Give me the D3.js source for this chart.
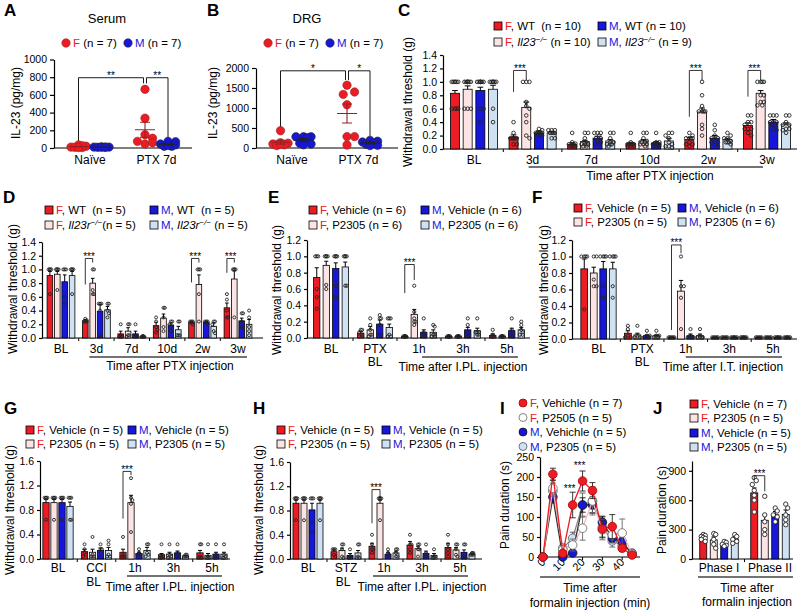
<!DOCTYPE html>
<html lang="en">
<head>
<meta charset="UTF-8">
<title>IL-23 sex dimorphism figure</title>
<style>
  body { margin: 0; background: #fff; }
  text { white-space: pre; }
</style>
<script src="https://d3js.org/d3.v7.min.js"></script>
</head>
<body>
<script>
// ---------------- data ----------------
// A / B : IL-23 levels (pg/mg), one value per animal
const abGroups = ["Naïve", "PTX 7d"];
const aTicks = [0, 200, 400, 600, 800, 1000];
const aFemale = [[35, 20, 10, 5, 8, 25, 5], [663, 337, 150, 110, 75, 45, 60]];
const aMale = [[12, 10, 10, 8, 8, 10, 10], [75, 70, 45, 20, 20, 30, 35]];
const aSig = [[0, 2, 794, 70, 730, "**"], [2, 3, 794, 730, 90, "**"]];
const bTicks = [0, 500, 1000, 1500, 2000];
const bFemale = [[433, 130, 120, 100, 80, 60, 90], [1570, 1400, 1340, 1080, 285, 285, 75]];
const bMale = [[280, 280, 280, 260, 120, 100, 80], [190, 170, 150, 120, 90, 70, 60]];
const bSig = [[0, 2, 1930, 520, 1700, "*"], [2, 3, 1930, 1700, 300, "*"]];

// C : Il23 KO, PTX  (series: F WT, F KO, M WT, M KO)
const ptxGroups = ["BL", "3d", "7d", "10d", "2w", "3w"];
const tick14 = [0, 0.2, 0.4, 0.6, 0.8, 1.0, 1.2, 1.4];
const cLegend = [["F", ", WT  (n = 10)"], ["F", ", ", "_Il23", "^−/−", " (n = 10)"],
                 ["M", ", WT (n = 10)"], ["M", ", ", "_Il23", "^−/−", " (n = 9)"]];
const cMeans = [[0.83, 0.17, 0.07, 0.08, 0.14, 0.35], [0.89, 0.62, 0.11, 0.12, 0.55, 0.83],
                [0.87, 0.24, 0.16, 0.09, 0.16, 0.40], [0.89, 0.24, 0.12, 0.12, 0.14, 0.36]];
const cSems = [[0.04, 0.04, 0.02, 0.02, 0.03, 0.04], [0.05, 0.08, 0.02, 0.02, 0.06, 0.04],
               [0.05, 0.03, 0.03, 0.02, 0.04, 0.04], [0.06, 0.02, 0.02, 0.04, 0.02, 0.03]];
const cDots = [
  [[1, 1, 1, 1, 1, 1, 0.6, 0.6, 0.6, 0.6], [0.4, 0.24, 0.16, 0.16, 0.16, 0.16, 0.16, 0.16, 0.07, 0.07],
   [0.24, 0.1, 0.08, 0.07, 0.07, 0.07, 0.04, 0.04, 0.04, 0.04], [0.24, 0.1, 0.07, 0.07, 0.07, 0.07, 0.07, 0.04, 0.04, 0.04],
   [0.24, 0.2, 0.16, 0.16, 0.16, 0.16, 0.1, 0.07, 0.07, 0.04], [0.5, 0.5, 0.4, 0.4, 0.36, 0.3, 0.3, 0.3, 0.24, 0.2]],
  [[1, 1, 1, 1, 1, 1, 1, 0.6, 0.6, 0.6], [1, 1, 1, 0.7, 0.64, 0.6, 0.5, 0.4, 0.2, 0.16],
   [0.24, 0.24, 0.16, 0.1, 0.07, 0.07, 0.07, 0.07, 0.04, 0.04], [0.24, 0.24, 0.16, 0.12, 0.1, 0.1, 0.07, 0.07, 0.07, 0.04],
   [1, 0.8, 0.64, 0.56, 0.56, 0.56, 0.56, 0.36, 0.3, 0.2], [1, 1, 1, 1, 0.8, 0.8, 0.7, 0.7, 0.65, 0.65]],
  [[1, 1, 1, 1, 1, 1, 1, 0.6, 0.6, 0.4], [0.3, 0.28, 0.24, 0.24, 0.24, 0.24, 0.24, 0.24, 0.2, 0.2],
   [0.24, 0.24, 0.24, 0.2, 0.16, 0.16, 0.12, 0.1, 0.07, 0.07], [0.24, 0.1, 0.1, 0.07, 0.07, 0.07, 0.07, 0.07, 0.04, 0.04],
   [0.36, 0.28, 0.2, 0.16, 0.16, 0.12, 0.1, 0.1, 0.07, 0.04], [0.5, 0.5, 0.5, 0.4, 0.4, 0.4, 0.36, 0.36, 0.3, 0.28]],
  [[1, 1, 1, 1, 1, 1, 1, 0.6, 0.4], [0.28, 0.28, 0.28, 0.24, 0.24, 0.24, 0.24, 0.16, 0.16],
   [0.24, 0.24, 0.16, 0.1, 0.1, 0.07, 0.07, 0.07, 0.04], [0.24, 0.24, 0.2, 0.16, 0.1, 0.07, 0.04, 0.04, 0.02],
   [0.24, 0.2, 0.16, 0.16, 0.12, 0.1, 0.1, 0.1, 0.07], [0.5, 0.5, 0.4, 0.36, 0.36, 0.3, 0.3, 0.28, 0.24]]];
const cSig = [[1, 1.17, 0.85, 1.02], [4, 1.17, 0.48, 1.02], [5, 1.17, 0.78, 1.02]];

// D : Il23r KO, PTX
const dLegend = [["F", ", WT  (n = 5)"], ["F", ", ", "_Il23r", "^−/−", "(n = 5)"],
                 ["M", ", WT  (n = 5)"], ["M", ", ", "_Il23r", "^−/−", " (n = 5)"]];
const dMeans = [[0.91, 0.25, 0.06, 0.18, 0.23, 0.44], [0.93, 0.80, 0.10, 0.29, 0.78, 0.86],
                [0.82, 0.39, 0.06, 0.19, 0.23, 0.25], [0.91, 0.41, 0.02, 0.12, 0.17, 0.20]];
const dSems = [[0.06, 0.02, 0.04, 0.05, 0.01, 0.07], [0.04, 0.07, 0.05, 0.06, 0.14, 0.12],
               [0.10, 0.10, 0.04, 0.03, 0.01, 0.04], [0.06, 0.05, 0.01, 0.05, 0.05, 0.07]];
const dDots = [
  [[1, 1, 1, 1, 0.64], [0.28, 0.26, 0.24, 0.24, 0.24], [0.2, 0.04, 0.02, 0.02, 0.02], [0.3, 0.24, 0.16, 0.12, 0.08], [0.24, 0.24, 0.24, 0.22, 0.2], [0.64, 0.56, 0.4, 0.3, 0.3]],
  [[1, 1, 1, 1, 0.7], [1, 1, 0.7, 0.64, 0.64], [0.2, 0.2, 0.04, 0.04, 0.02], [0.44, 0.44, 0.3, 0.16, 0.1], [1, 1, 1, 0.64, 0.24], [1, 1, 1, 1, 0.3]],
  [[1, 1, 1, 0.6, 0.5], [0.5, 0.5, 0.5, 0.4, 0.04], [0.2, 0.04, 0.02, 0.02, 0.02], [0.24, 0.24, 0.2, 0.16, 0.1], [0.24, 0.24, 0.24, 0.22, 0.2], [0.36, 0.36, 0.24, 0.16, 0.14]],
  [[1, 1, 1, 1, 0.64], [0.5, 0.5, 0.4, 0.36, 0.3], [0.03, 0.02, 0.02, 0.02, 0.02], [0.24, 0.24, 0.04, 0.04, 0.04], [0.24, 0.24, 0.2, 0.1, 0.07], [0.4, 0.3, 0.16, 0.1, 0.04]]];
const dSig = [[1, 1.16, 0.78, 1.1], [4, 1.16, 0.81, 1.1], [5, 1.16, 0.95, 1.1]];

// E : P2305 i.pl. after PTX
const injGroups = ["BL", "PTX", "1h", "3h", "5h"];
const injSub = ["", "BL", "", "", ""];
const tick12 = [0, 0.2, 0.4, 0.6, 0.8, 1.0, 1.2];
const eLegend = [["F", ", Vehicle (n = 6)"], ["F", ", P2305 (n = 6)"], ["M", ", Vehicle (n = 6)"], ["M", ", P2305 (n = 6)"]];
const eMeans = [[0.74, 0.06, 0.02, 0.02, 0.03], [0.89, 0.10, 0.29, 0.02, 0.02],
                [0.85, 0.17, 0.07, 0.10, 0.09], [0.87, 0.13, 0.07, 0.09, 0.10]];
const eSems = [[0.12, 0.02, 0.005, 0.005, 0.02], [0.05, 0.04, 0.06, 0.005, 0.005],
               [0.07, 0.05, 0.03, 0.03, 0.03], [0.06, 0.04, 0.03, 0.03, 0.03]];
const eDots = [
  [[1, 1, 1, 0.6, 0.5, 0.36], [0.1, 0.1, 0.07, 0.04, 0.02, 0.02], [0.02, 0.02, 0.02, 0.02, 0.02, 0.02], [0.02, 0.02, 0.02, 0.02, 0.02, 0.02], [0.1, 0.04, 0.02, 0.02, 0.02, 0.02]],
  [[1, 1, 1, 1, 0.65, 0.6], [0.24, 0.16, 0.1, 0.04, 0.04, 0.02], [0.64, 0.32, 0.24, 0.2, 0.2, 0.16], [0.02, 0.02, 0.02, 0.02, 0.02, 0.02], [0.02, 0.02, 0.02, 0.02, 0.02, 0.02]],
  [[1, 1, 1, 1, 0.64, 0.5], [0.28, 0.24, 0.24, 0.16, 0.04, 0.04], [0.24, 0.07, 0.04, 0.04, 0.02, 0.02], [0.24, 0.16, 0.07, 0.04, 0.04, 0.02], [0.24, 0.1, 0.07, 0.04, 0.04, 0.02]],
  [[1, 1, 1, 1, 0.64, 0.64], [0.24, 0.24, 0.24, 0.04, 0.02, 0.02], [0.16, 0.14, 0.04, 0.04, 0.02, 0.02], [0.24, 0.07, 0.07, 0.07, 0.04, 0.04], [0.2, 0.16, 0.1, 0.07, 0.04, 0.04]]];
const eSig = [[2, 0.9, 0.55, 0.71]];

// F : P2305 i.t. after PTX
const fLegend = [["F", ", Vehicle (n = 5)"], ["F", ", P2305 (n = 5)"], ["M", ", Vehicle (n = 6)"], ["M", ", P2305 (n = 6)"]];
const fMeans = [[0.85, 0.07, 0.02, 0.02, 0.02], [0.80, 0.05, 0.58, 0.02, 0.02],
                [0.85, 0.04, 0.04, 0.02, 0.02], [0.85, 0.04, 0.04, 0.02, 0.02]];
const fSems = [[0.12, 0.03, 0.003, 0.003, 0.003], [0.07, 0.02, 0.13, 0.003, 0.003],
               [0.09, 0.01, 0.02, 0.003, 0.003], [0.08, 0.01, 0.02, 0.003, 0.003]];
const fDots = [
  [[1, 1, 1, 1, 0.36], [0.16, 0.12, 0.04, 0.02, 0.02], [0.02, 0.02, 0.02, 0.02, 0.02], [0.02, 0.02, 0.02, 0.02, 0.02], [0.02, 0.02, 0.02, 0.02, 0.02]],
  [[1, 1, 0.72, 0.64, 0.64], [0.16, 0.04, 0.02, 0.02, 0.02], [1, 0.64, 0.64, 0.5, 0.12], [0.02, 0.02, 0.02, 0.02, 0.02], [0.02, 0.02, 0.02, 0.02, 0.02]],
  [[1, 1, 1, 1, 0.64, 0.5], [0.1, 0.04, 0.04, 0.02, 0.02, 0.02], [0.12, 0.04, 0.02, 0.02, 0.02, 0.02], [0.02, 0.02, 0.02, 0.02, 0.02, 0.02], [0.02, 0.02, 0.02, 0.02, 0.02, 0.02]],
  [[1, 1, 1, 1, 0.64, 0.5], [0.1, 0.04, 0.04, 0.02, 0.02, 0.02], [0.12, 0.04, 0.02, 0.02, 0.02, 0.02], [0.02, 0.02, 0.02, 0.02, 0.02, 0.02], [0.02, 0.02, 0.02, 0.02, 0.02, 0.02]]];
const fSig = [[2, 1.14, 0.11, 1.04]];

// G : CCI model, H : STZ model
const tick16 = [0, 0.4, 0.8, 1.2, 1.6];
const ghLegend = [["F", ", Vehicle (n = 5)"], ["F", ", P2305 (n = 5)"], ["M", ", Vehicle (n = 5)"], ["M", ", P2305 (n = 5)"]];
const gGroups = ["BL", "CCI", "1h", "3h", "5h"];
const gMeans = [[0.92, 0.12, 0.11, 0.07, 0.10], [0.92, 0.11, 0.92, 0.08, 0.06],
                [0.92, 0.14, 0.09, 0.10, 0.08], [0.86, 0.14, 0.14, 0.05, 0.08]];
const gSems = [[0.05, 0.04, 0.05, 0.02, 0.04], [0.05, 0.05, 0.12, 0.03, 0.03],
               [0.05, 0.04, 0.02, 0.03, 0.03], [0.07, 0.05, 0.05, 0.01, 0.03]];
const gDots = [
  [[1, 1, 1, 1, 0.64], [0.24, 0.16, 0.1, 0.07, 0.04], [0.36, 0.07, 0.04, 0.04, 0.04], [0.24, 0.04, 0.04, 0.02, 0.02], [0.24, 0.24, 0.04, 0.02, 0.02]],
  [[1, 1, 1, 1, 0.64], [0.36, 0.07, 0.04, 0.04, 0.04], [1.32, 1, 0.96, 0.9, 0.44], [0.24, 0.07, 0.04, 0.02, 0.02], [0.24, 0.04, 0.02, 0.02, 0.02]],
  [[1, 1, 1, 1, 0.64], [0.24, 0.16, 0.16, 0.1, 0.04], [0.16, 0.1, 0.07, 0.07, 0.07], [0.24, 0.1, 0.07, 0.04, 0.04], [0.24, 0.07, 0.04, 0.02, 0.02]],
  [[1, 1, 1, 0.64, 0.64], [0.3, 0.24, 0.07, 0.04, 0.04], [0.24, 0.24, 0.1, 0.07, 0.04], [0.07, 0.07, 0.04, 0.04, 0.04], [0.24, 0.07, 0.04, 0.02, 0.02]]];
const gSig = [[2, 1.43, 0.66, 1.37]];
const hGroups = ["BL", "STZ", "1h", "3h", "5h"];
const hMeans = [[0.92, 0.12, 0.21, 0.23, 0.19], [0.92, 0.14, 0.92, 0.17, 0.15],
                [0.81, 0.06, 0.08, 0.09, 0.11], [0.92, 0.10, 0.10, 0.06, 0.08]];
const hSems = [[0.05, 0.03, 0.05, 0.06, 0.07], [0.05, 0.04, 0.05, 0.04, 0.04],
               [0.11, 0.03, 0.03, 0.04, 0.04], [0.05, 0.04, 0.03, 0.03, 0.02]];
const hDots = [
  [[1, 1, 1, 1, 0.64], [0.16, 0.16, 0.16, 0.07, 0.04], [0.4, 0.24, 0.16, 0.16, 0.1], [0.4, 0.24, 0.24, 0.16, 0.1], [0.4, 0.24, 0.16, 0.1, 0.04]],
  [[1, 1, 1, 1, 0.64], [0.24, 0.24, 0.16, 0.04, 0.02], [1, 1, 1, 1, 0.64], [0.24, 0.24, 0.16, 0.16, 0.04], [0.24, 0.24, 0.16, 0.07, 0.04]],
  [[1, 1, 1, 0.6, 0.44], [0.16, 0.04, 0.04, 0.02, 0.02], [0.16, 0.1, 0.07, 0.04, 0.04], [0.24, 0.1, 0.04, 0.04, 0.04], [0.24, 0.24, 0.04, 0.02, 0.02]],
  [[1, 1, 1, 1, 0.64], [0.24, 0.24, 0.04, 0.02, 0.02], [0.16, 0.16, 0.1, 0.04, 0.04], [0.16, 0.04, 0.04, 0.02, 0.02], [0.1, 0.1, 0.07, 0.07, 0.07]]];
const hSig = [[2, 1.145, 0.59, 1.0]];

// I : formalin time course (s per 5 min bin)
const iTime = [0, 5, 10, 15, 20, 25, 30, 35, 40, 45];
const iTicks = [0, 10, 20, 30, 40];
const iYTicks = [0, 50, 100, 150, 200, 250];
const iLegend = [["F", ", Vehichle (n = 7)"], ["F", ", P2505 (n = 5)"], ["M", ", Vehichle (n = 5)"], ["M", ", P2305 (n = 5)"]];
const iFVeh = [0, 207, 9, 130, 190, 166, 70, 76, 22, 5];
const iFVehSem = [0, 15, 6, 32, 25, 20, 22, 30, 8, 4];
const iFP = [0, 172, 18, 30, 72, 140, 68, 55, 60, 8];
const iFPSem = [0, 20, 10, 15, 30, 35, 25, 20, 35, 6];
const iMVeh = [0, 150, 0, 10, 130, 130, 87, 47, 38, 8];
const iMVehSem = [0, 15, 3, 5, 18, 20, 15, 10, 10, 4];
const iMP = [0, 165, 22, 47, 130, 140, 75, 40, 30, 10];
const iMPSem = [0, 20, 10, 15, 30, 30, 25, 15, 10, 5];
const iSig = [[15, 168], [20, 225]];

// J : formalin phases
const jGroups = ["Phase I", "Phase II"];
const jTicks = [0, 300, 600, 900];
const jLegend = [["F", ", Vehicle (n = 7)"], ["F", ", P2305 (n = 5)"], ["M", ", Vehicle (n = 5)"], ["M", ", P2305 (n = 5)"]];
const jMeans = [[225, 675], [195, 395], [155, 450], [205, 455]];
const jSems = [[20, 50], [30, 60], [15, 35], [25, 45]];
const jDots = [[[250, 240, 230, 220, 210, 200, 180], [830, 800, 760, 700, 650, 600, 480]],
               [[260, 250, 200, 150, 110], [640, 450, 380, 300, 250]],
               [[180, 170, 150, 140, 130], [520, 490, 450, 430, 380]],
               [[250, 230, 200, 180, 160], [560, 520, 450, 400, 350]]];
const jSig = [[1, 850, 810, 690]];

// ---------------- drawing ----------------
const RED = "#ec1c24", PINK = "#fde4e4", BLUE = "#1717dc", LBLUE = "#cfe2f3";
const FILLS = [RED, PINK, BLUE, LBLUE];
const SEX = [RED, RED, BLUE, BLUE];

const svg = d3.select("body").append("svg")
    .attr("width", 800).attr("height", 611)
    .attr("font-family", "'Liberation Sans', Arial, sans-serif");

function styleAxis(g) {
  g.attr("font-family", null).attr("font-size", 10.5);
  g.selectAll(".domain, .tick line").attr("stroke", "#000").attr("stroke-width", 1.2);
  g.selectAll(".tick text").attr("fill", "#000");
}

function hline(g, x1, x2, y, w, col) {
  g.append("line").attr("x1", x1).attr("x2", x2).attr("y1", y).attr("y2", y)
    .attr("stroke", col || "#000").attr("stroke-width", w);
}

function txt(g, x, y, s, size, anchor) {
  return g.append("text").attr("x", x).attr("y", y).attr("font-size", size)
    .attr("text-anchor", anchor || "middle").text(s);
}

function yTitle(g, x, y, s) {
  g.append("text").attr("transform", `translate(${x},${y}) rotate(-90)`)
    .attr("text-anchor", "middle").attr("font-size", 12).text(s);
}

// legend text: first piece coloured by sex, "_" italic, "^" italic superscript
function rich(g, x, y, segs, col, size) {
  const t = g.append("text").attr("x", x).attr("y", y).attr("font-size", size);
  let up = false;
  segs.forEach((s, k) => {
    const ts = t.append("tspan");
    if (k === 0) ts.attr("fill", col);
    if (s[0] === "^") {
      ts.attr("font-style", "italic").attr("font-size", size * 0.7).attr("dy", -4).text(s.slice(1));
      up = true;
    } else {
      if (up) { ts.attr("dy", 4); up = false; }
      if (s[0] === "_") ts.attr("font-style", "italic").text(s.slice(1));
      else ts.text(s);
    }
  });
}

// simple deterministic beeswarm offsets
function swarm(vals, y, r, lim) {
  const placed = [], offs = [];
  vals.forEach(v => {
    const py = y(v);
    let best = 0, bestD = -1;
    for (let k = 0; k <= 14; k++) {
      const o = (k % 2 ? 1 : -1) * Math.ceil(k / 2) * r * 0.9;
      if (Math.abs(o) > lim) continue;
      const d = d3.min(placed, q => Math.hypot(q[0] - o, q[1] - py));
      if (d === undefined || d >= 2 * r) { best = o; break; }
      if (d > bestD) { bestD = d; best = o; }
    }
    placed.push([best, py]);
    offs.push(best);
  });
  return offs;
}

function letter(s, x, y) {
  svg.append("text").attr("x", x).attr("y", y).attr("font-size", 17)
    .attr("font-weight", "bold").text(s);
}

function scatterPanel(L, groups, fem, mal, ticks, sig) {
  const g = svg.append("g");
  const y = d3.scaleLinear().domain([0, L.max]).range([L.yBot, L.yTop]);
  const ay = g.append("g").attr("transform", `translate(${L.x0},0)`)
    .call(d3.axisLeft(y).tickValues(ticks).tickFormat(d3.format("d")).tickSize(4).tickSizeOuter(0));
  styleAxis(ay);
  hline(g, L.x0, L.x1, L.yBot, 1.2);
  const cols = [[fem[0], L.c[0] - L.off, RED, "#9a2020"], [mal[0], L.c[0] + L.off, BLUE, "#222"],
                [fem[1], L.c[1] - L.off, RED, "#9a2020"], [mal[1], L.c[1] + L.off, BLUE, "#222"]];
  sig.forEach(([a, b, t, l, r, s]) => {
    const lx = cols[a][1] + (a === 2 ? 1.5 : 0), rx = cols[b][1] - (b === 2 ? 1.5 : 0);
    g.append("path").attr("d", `M${lx},${y(l)}V${y(t)}H${rx}V${y(r)}`)
      .attr("fill", "none").attr("stroke", "#000").attr("stroke-width", 0.9);
    txt(g, (lx + rx) / 2, y(t) + 1, s, 10);
  });
  cols.forEach(([vals, cx, fill, dark]) => {
    const offs = swarm(vals, y, 4.2, 9);
    vals.forEach((v, k) => g.append("circle").attr("cx", cx + offs[k]).attr("cy", y(v))
      .attr("r", 4.2).attr("fill", fill).attr("stroke", dark).attr("stroke-width", 0.6));
    const m = d3.mean(vals), se = d3.deviation(vals) / Math.sqrt(vals.length);
    const lo = y(Math.max(0, m - se)), hi = y(m + se);
    g.append("path")
      .attr("d", `M${cx - 10},${y(m)}H${cx + 10}M${cx},${lo}V${hi}M${cx - 5},${lo}H${cx + 5}M${cx - 5},${hi}H${cx + 5}`)
      .attr("stroke", dark).attr("stroke-width", 1.1).attr("fill", "none");
  });
  groups.forEach((s, i) => txt(g, L.c[i], L.yBot + 16, s, 12));
  yTitle(g, L.yt[0], L.yt[1], "IL-23 (pg/mg)");
  txt(g, L.title[0], L.title[1], L.titleText, 13);
  // legend
  [[L.leg[0], RED, "F"], [L.leg[1], BLUE, "M"]].forEach(([lx, col, sx]) => {
    g.append("circle").attr("cx", lx).attr("cy", L.legY).attr("r", 4.2).attr("fill", col)
      .attr("stroke", col === RED ? "#9a2020" : "#222").attr("stroke-width", 0.6);
    rich(g, lx + 7, L.legY + 4, [sx, " (n = 7)"], col, 11.5);
  });
}

function barPanel(L, D) {
  const g = svg.append("g");
  const y = d3.scaleLinear().domain([0, L.max]).range([L.yBot, L.yTop]);
  const x = d3.scalePoint().domain(d3.range(D.groups.length)).range([L.g0, L.g1]);
  const ay = g.append("g").attr("transform", `translate(${L.x0},0)`)
    .call(d3.axisLeft(y).tickValues(D.ticks).tickFormat(d3.format(L.fmt)).tickSize(3).tickSizeOuter(0));
  styleAxis(ay);
  hline(g, L.x0, L.x1, L.yBot, 1.2);
  d3.range(D.groups.length - 1).forEach(i => {
    const tx = (x(i) + x(i + 1)) / 2;
    g.append("line").attr("x1", tx).attr("x2", tx).attr("y1", L.yBot).attr("y2", L.yBot + 3)
      .attr("stroke", "#000").attr("stroke-width", 1);
  });
  D.means.forEach((ms, s) => {
    ms.forEach((m, i) => {
      const cx = x(i) + (s - 1.5) * L.step;
      g.append("rect").attr("x", cx - L.barW / 2).attr("y", y(m))
        .attr("width", L.barW).attr("height", L.yBot - y(m))
        .attr("fill", FILLS[s]).attr("stroke", "#000").attr("stroke-width", 0.8);
      const top = y(m + D.sems[s][i]);
      g.append("path")
        .attr("d", `M${cx},${y(m)}V${top}M${cx - L.barW * 0.32},${top}H${cx + L.barW * 0.32}`)
        .attr("stroke", "#000").attr("stroke-width", 1);
      const vals = D.dots[s][i];
      const offs = swarm(vals, y, L.r, L.barW / 2 - 0.5);
      vals.forEach((v, k) => g.append("circle").attr("cx", cx + offs[k]).attr("cy", y(v))
        .attr("r", L.r).attr("fill", L.dotFill || "none").attr("stroke", "#222").attr("stroke-width", 0.9));
    });
  });
  D.sig.forEach(([i, t, l, r]) => {
    const lx = x(i) - 1.5 * L.step, rx = x(i) - 0.5 * L.step;
    g.append("path").attr("d", `M${lx},${y(l)}V${y(t)}H${rx}V${y(r)}`)
      .attr("fill", "none").attr("stroke", "#000").attr("stroke-width", 0.8);
    txt(g, (lx + rx) / 2, y(t) + 1.5, "***", 10);
  });
  D.groups.forEach((s, i) => txt(g, x(i), L.labY, s, 12));
  if (D.sub) D.sub.forEach((s, i) => { if (s) txt(g, x(i) + (L.subDx || 0), L.subY, s, 12); });
  const [ui, uj, dl, dr] = L.uline;
  hline(g, x(ui) + dl, x(uj) + dr, L.ulY, 1.4, "#444");
  D.title.forEach((s, k) => txt(g, L.title[0], L.title[1] + k * 14, s, 12));
  yTitle(g, L.yt[0], L.yt[1], D.yTitle);
  D.legend.forEach((segs, s) => {
    const lx = L.legX[L.oneCol ? 0 : s >> 1], ly = L.legY[L.oneCol ? s : s & 1];
    g.append("rect").attr("x", lx).attr("y", ly - 4).attr("width", 8).attr("height", 8)
      .attr("fill", FILLS[s]).attr("stroke", "#000").attr("stroke-width", 0.8);
    rich(g, lx + 11, ly + 4, segs, SEX[s], 11.5);
  });
}

function linePanel() {
  const g = svg.append("g");
  const x = d3.scaleLinear().domain([-1.5, 49]).range([540, 640]);
  const y = d3.scaleLinear().domain([0, 250]).range([557, 457]);
  const ay = g.append("g").attr("transform", "translate(540,0)")
    .call(d3.axisLeft(y).tickValues(iYTicks).tickSize(3).tickSizeOuter(0));
  styleAxis(ay);
  hline(g, 540, 640, 557, 1.2);
  iTicks.forEach(t => {
    g.append("line").attr("x1", x(t)).attr("x2", x(t)).attr("y1", 557).attr("y2", 560)
      .attr("stroke", "#000").attr("stroke-width", 1);
    g.append("text").attr("transform", `translate(${x(t) + 3},${563}) rotate(-45)`)
      .attr("text-anchor", "end").attr("font-size", 11).text(t);
  });
  const series = [
    { v: iMP, e: iMPSem, fill: LBLUE, stroke: "#555", line: "#888" },
    { v: iMVeh, e: iMVehSem, fill: BLUE, stroke: "#111", line: "#333" },
    { v: iFP, e: iFPSem, fill: "#fff", stroke: "#666", line: "#f2bcbc" },
    { v: iFVeh, e: iFVehSem, fill: RED, stroke: "#a00", line: RED }];
  series.forEach(S => {
    g.append("path").datum(S.v)
      .attr("d", d3.line().x((d, k) => x(iTime[k])).y(d => y(d)))
      .attr("fill", "none").attr("stroke", S.line).attr("stroke-width", 1.3);
    S.v.forEach((v, k) => {
      const cx = x(iTime[k]), lo = y(Math.max(0, v - S.e[k])), hi = y(v + S.e[k]);
      g.append("path").attr("d", `M${cx},${lo}V${hi}M${cx - 3},${lo}H${cx + 3}M${cx - 3},${hi}H${cx + 3}`)
        .attr("stroke", S.stroke === "#a00" ? "#222" : S.stroke).attr("stroke-width", 0.9).attr("fill", "none");
    });
    S.v.forEach((v, k) => g.append("circle").attr("cx", x(iTime[k])).attr("cy", y(v)).attr("r", 4.3)
      .attr("fill", S.fill).attr("stroke", S.stroke).attr("stroke-width", 0.8));
  });
  iSig.forEach(([t, v]) => txt(g, x(t) - 3, y(v) + 2, "***", 10));
  hline(g, 540, 640, 577, 1.4, "#444");
  txt(g, 590, 592, "Time after", 12);
  txt(g, 590, 607, "formalin injection (min)", 12);
  yTitle(g, 509, 505, "Pain duration (s)");
  const lf = [RED, "#fff", BLUE, LBLUE], ls = ["#a00", "#666", "#111", "#555"];
  iLegend.forEach((segs, s) => {
    const ly = 403 + s * 14.5;
    g.append("circle").attr("cx", 523).attr("cy", ly).attr("r", 4).attr("fill", lf[s])
      .attr("stroke", ls[s]).attr("stroke-width", 0.8);
    rich(g, 530, ly + 4, segs, SEX[s], 11.5);
  });
}

// --- panels ---
scatterPanel({ x0: 54, x1: 192, yBot: 148, yTop: 59.5, max: 1000, c: [90, 156.5], off: 11.5,
  yt: [20, 103], title: [107, 23], titleText: "Serum", leg: [66, 128], legY: 43 },
  abGroups, aFemale, aMale, aTicks, aSig);
scatterPanel({ x0: 256, x1: 398, yBot: 148, yTop: 68, max: 2000, c: [292, 358.5], off: 11.5,
  yt: [217, 103], title: [307, 23], titleText: "DRG", leg: [268, 330], legY: 43 },
  abGroups, bFemale, bMale, bTicks, bSig);

const wt = "Withdrawal threshold (g)";
barPanel({ x0: 443, x1: 797, g0: 474, g1: 767, yBot: 149, yTop: 55, max: 1.4, fmt: ".1f",
  barW: 9, step: 12.7, r: 1.8, labY: 164, uline: [1, 5, -4, -4], ulY: 167, title: [650, 180],
  yt: [412, 102], legX: [494, 598], legY: [26, 42] },
  { groups: ptxGroups, ticks: tick14, means: cMeans, sems: cSems, dots: cDots, sig: cSig,
    legend: cLegend, title: ["Time after PTX injection"], yTitle: wt });
barPanel({ x0: 42, x1: 263, g0: 61, g1: 238, yBot: 338, yTop: 242, max: 1.4, fmt: ".1f",
  barW: 5.6, step: 7.4, r: 1.5, labY: 353, uline: [1, 5, -7, 9], ulY: 357, title: [170, 370],
  yt: [17, 289], legX: [45, 150], legY: [210, 225] },
  { groups: ptxGroups, ticks: tick14, means: dMeans, sems: dSems, dots: dDots, sig: dSig,
    legend: dLegend, title: ["Time after PTX injection"], yTitle: wt });
barPanel({ x0: 307, x1: 530, g0: 331, g1: 507, yBot: 338, yTop: 240, max: 1.2, fmt: ".1f",
  barW: 6.3, step: 9.5, r: 1.6, labY: 353, subY: 366, uline: [2, 4, 3, 11], ulY: 357, title: [463, 371],
  yt: [281, 290], legX: [309, 421], legY: [210, 225] },
  { groups: injGroups, sub: injSub, ticks: tick12, means: eMeans, sems: eSems, dots: eDots, sig: eSig,
    legend: eLegend, title: ["Time after I.PL. injection"], yTitle: wt });
barPanel({ x0: 572, x1: 797, g0: 598.5, g1: 773, yBot: 339, yTop: 240, max: 1.2, fmt: ".1f",
  barW: 6.8, step: 9.5, r: 1.6, labY: 353, subY: 366, uline: [2, 4, 0, 9], ulY: 357, title: [723, 371],
  yt: [548, 290], legX: [574, 678], legY: [208, 222] },
  { groups: injGroups, sub: injSub, ticks: tick12, means: fMeans, sems: fSems, dots: fDots, sig: fSig,
    legend: fLegend, title: ["Time after I.T. injection"], yTitle: wt });
barPanel({ x0: 40, x1: 230, g0: 58, g1: 212, yBot: 559, yTop: 461, max: 1.6, fmt: ".1f",
  barW: 6.3, step: 8, r: 1.5, labY: 572, subY: 586, subDx: -3, uline: [2, 4, -8, 10], ulY: 576, title: [170, 591],
  yt: [14, 510], legX: [26, 128], legY: [430, 444] },
  { groups: gGroups, sub: injSub, ticks: tick16, means: gMeans, sems: gSems, dots: gDots, sig: gSig,
    legend: ghLegend, title: ["Time after I.PL. injection"], yTitle: wt });
barPanel({ x0: 290, x1: 482, g0: 308, g1: 460, yBot: 559, yTop: 462, max: 1.6, fmt: ".1f",
  barW: 6, step: 8, r: 1.5, labY: 572, subY: 586, subDx: -3, uline: [2, 4, -11, 8], ulY: 576, title: [422, 591],
  yt: [263, 510], legX: [277, 382], legY: [430, 444] },
  { groups: hGroups, sub: injSub, ticks: tick16, means: hMeans, sems: hSems, dots: hDots, sig: hSig,
    legend: ghLegend, title: ["Time after I.PL. injection"], yTitle: wt });
barPanel({ x0: 692, x1: 793, g0: 719, g1: 770, yBot: 559, yTop: 461, max: 1000, fmt: "d",
  barW: 7, step: 10.5, r: 2.2, dotFill: "#fff", labY: 572, uline: [0, 1, -21, 23], ulY: 577, title: [747, 592],
  yt: [666, 510], legX: [690], legY: [404, 418, 433, 447], oneCol: true },
  { groups: jGroups, ticks: jTicks, means: jMeans, sems: jSems, dots: jDots, sig: jSig,
    legend: jLegend, title: ["Time after", "formalin injection"], yTitle: "Pain duration (s)" });
linePanel();

[["A", 4, 16], ["B", 207, 16], ["C", 398, 16], ["D", 3, 203], ["E", 268, 203], ["F", 532, 203],
 ["G", 4, 414], ["H", 253, 414], ["I", 500, 414], ["J", 653, 414]].forEach(d => letter(...d));
</script>
</body>
</html>
